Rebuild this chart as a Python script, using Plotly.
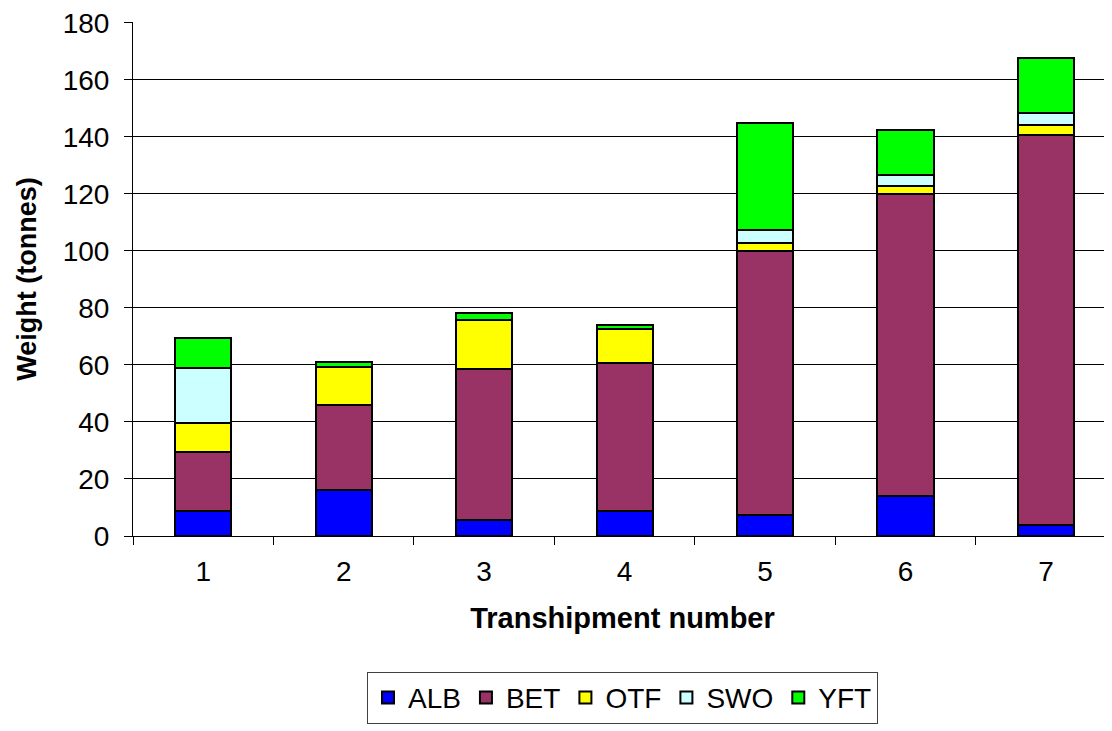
import plotly.graph_objects as go

# Transhipment catch by species (tonnes)
transhipments = ["1", "2", "3", "4", "5", "6", "7"]
alb = [8.8, 16.0, 5.6, 8.8, 7.4, 14.0, 4.0]
bet = [20.7, 30.0, 53.0, 51.8, 92.4, 106.1, 136.6]
otf = [10.0, 13.3, 17.2, 11.9, 3.1, 2.7, 3.6]
swo = [19.6, 0.0, 0.0, 0.0, 4.4, 3.8, 4.3]
yft = [10.2, 1.8, 2.3, 1.6, 37.6, 15.7, 19.2]

species = ["ALB", "BET", "OTF", "SWO", "YFT"]
series = [alb, bet, otf, swo, yft]
colors = ["#0000ff", "#993366", "#ffff00", "#ccffff", "#00ff00"]

y_ticks = list(range(0, 181, 20))

fig = go.Figure()

for name, vals, col in zip(species, series, colors):
    fig.add_trace(go.Bar(
        x=transhipments,
        y=vals,
        name=name,
        marker=dict(color=col, line=dict(color="black", width=2)),
    ))

# the page body adds an 8px margin, so the figure is a bit smaller than the window
fig.update_layout(
    barmode="stack",
    bargap=0.6,
    width=1104,
    height=723,
    paper_bgcolor="white",
    plot_bgcolor="white",
    font=dict(family="Liberation Sans, Arial, sans-serif", size=28, color="black"),
    margin=dict(l=125, r=0, t=12, b=195),
    xaxis=dict(
        range=[-0.5, 6.47],
        showline=True,
        linecolor="black",
        linewidth=1,
        ticks="outside",
        tickson="boundaries",
        ticklen=8,
        tickcolor="black",
        ticklabelstandoff=10,
        showgrid=False,
        title=dict(text="<b>Transhipment number</b>", font=dict(size=29), standoff=22),
    ),
    yaxis=dict(
        range=[0, 180.3],
        tickvals=y_ticks,
        showline=True,
        linecolor="black",
        linewidth=1,
        ticks="outside",
        ticklen=8,
        tickcolor="black",
        ticklabelstandoff=9,
        ticklabeloverflow="allow",
        showgrid=True,
        gridcolor="black",
        gridwidth=1,
        zeroline=False,
        title=dict(text="<b>Weight (tonnes)</b>", font=dict(size=27), standoff=18),
    ),
    legend=dict(
        orientation="h",
        traceorder="normal",
        x=0.5,
        xanchor="center",
        y=-0.264,
        yanchor="top",
        bordercolor="#404040",
        borderwidth=1,
        font=dict(size=28),
        itemwidth=30,
    ),
)

fig.write_html("out.html")
